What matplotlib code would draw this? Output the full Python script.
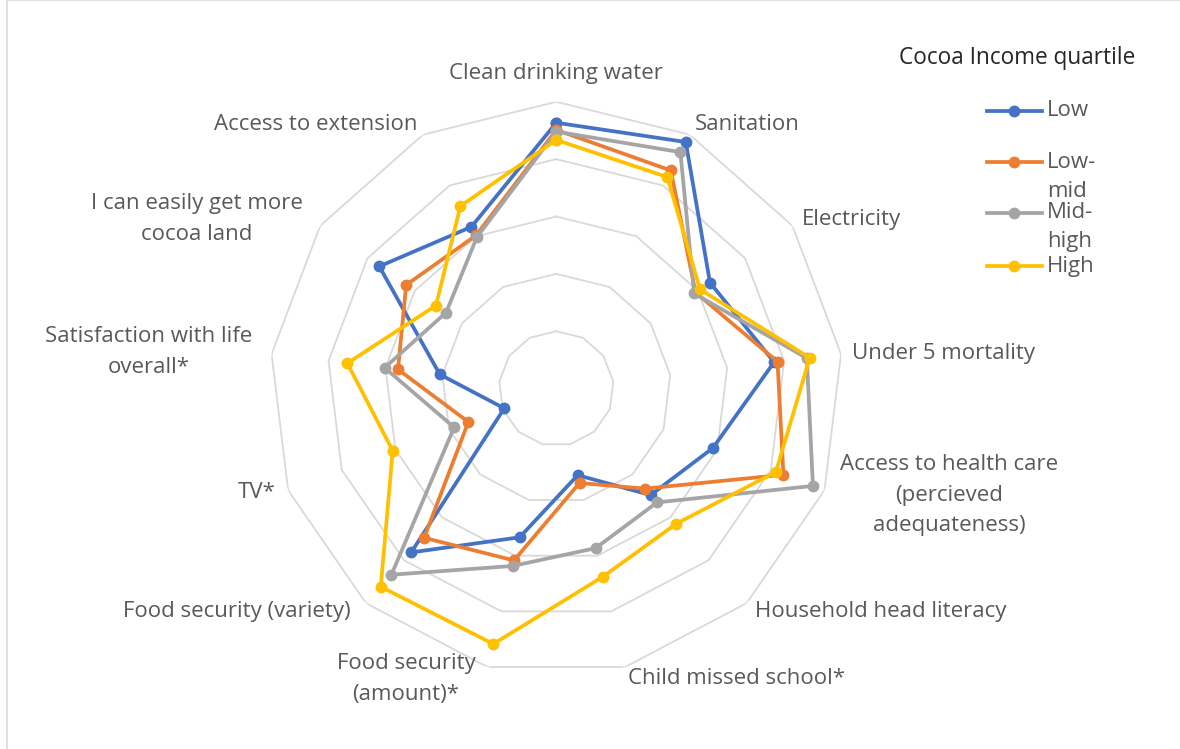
import numpy as np
import matplotlib
matplotlib.use("Agg")
import matplotlib.pyplot as plt
from matplotlib.lines import Line2D
from matplotlib.patches import Rectangle

# ---------------- data ----------------
categories = [
    "Clean drinking water", "Sanitation", "Electricity", "Under 5 mortality",
    "Access to health care\n(percieved\nadequateness)", "Household head literacy",
    "Child missed school*", "Food security\n(amount)*", "Food security (variety)",
    "TV*", "Satisfaction with life\noverall*", "I can easily get more\ncocoa land",
    "Access to extension",
]
series_names = ["Low", "Low-mid", "Mid-high", "High"]
legend_labels = ["Low", "Low-\nmid", "Mid-\nhigh", "High"]
low      = [0.927, 0.971, 0.651, 0.765, 0.584, 0.496, 0.311, 0.534, 0.763, 0.194, 0.409, 0.750, 0.637]
low_mid  = [0.902, 0.859, 0.590, 0.777, 0.847, 0.466, 0.339, 0.617, 0.695, 0.328, 0.556, 0.636, 0.603]
mid_high = [0.896, 0.931, 0.584, 0.880, 0.957, 0.530, 0.573, 0.637, 0.867, 0.381, 0.603, 0.467, 0.596]
high     = [0.867, 0.833, 0.609, 0.890, 0.819, 0.630, 0.676, 0.917, 0.923, 0.610, 0.734, 0.510, 0.719]
ring_levels = [0.2, 0.4, 0.6, 0.8, 1.0]
colors = ["#4472C4", "#ED7D31", "#A5A5A5", "#FFC000"]
legend_title = "Cocoa Income quartile"

# ---------------- figure ----------------
W, H = 1180, 749
fig = plt.figure(figsize=(W / 100, H / 100), dpi=100)
fig.patch.set_facecolor("white")
FONT = ["Open Sans", "DejaVu Sans"]
TXT = "#595959"
FS = 16
LS = 1.6

def fx(px):
    return px / W

def fy(py):
    return 1 - py / H

# chart border
fig.patches.append(Rectangle((fx(7), fy(760)), fx(1180), 760 / H, transform=fig.transFigure,
                             fill=False, edgecolor="#d9d9d9", linewidth=1.2))

cx, cy, R = 556.3, 388.6, 286.8
ax = fig.add_axes([fx(cx - R), fy(cy + R), 2 * R / W, 2 * R / H], projection="polar")
ax.set_theta_zero_location("N")
ax.set_theta_direction(-1)
ax.set_ylim(0, 1)
ax.set_xticks([])
ax.set_yticks([])
ax.grid(False)
ax.spines["polar"].set_visible(False)
ax.patch.set_alpha(0)

n = len(categories)
angles = np.arange(n) * 2 * np.pi / n
closed_angles = np.append(angles, angles[0])

for lv in ring_levels:
    ax.plot(closed_angles, [lv] * (n + 1), color="#d9d9d9", lw=1.3, zorder=1)

for vals, col in zip([low, low_mid, mid_high, high], colors):
    v = np.append(vals, vals[0])
    ax.plot(closed_angles, v, color=col, lw=2.7, marker="o", markersize=7.5,
            solid_joinstyle="round", zorder=3)

# category labels (pixel positions of text centres)
label_pos = [
    (556, 73, "center"), (695, 124, "left"), (802, 220, "left"), (852, 353, "left"),
    (949, 495, "center"), (755, 611, "left"), (628, 679, "left"), (406, 679, "center"),
    (237, 611, "center"), (257, 493, "center"), (149, 352, "center"), (197, 219, "center"),
    (417, 125, "right"),
]
for lab, (px, py, ha) in zip(categories, label_pos):
    fig.text(fx(px), fy(py), lab, ha=ha, va="center", fontsize=FS, color=TXT,
             family=FONT, linespacing=LS, multialignment="center")

# legend
fig.text(fx(1017), fy(58), legend_title, ha="center", va="center", fontsize=FS + 0.3,
         color="#262626", family=FONT)
leg_y = [110.7, 161.5, 212.7, 265.5]
text_y = [110.7, 176.7, 227.2, 266.0]
for lab, col, ly, ty in zip(legend_labels, colors, leg_y, text_y):
    fig.add_artist(Line2D([fx(987), fx(1041.5)], [fy(ly), fy(ly)], transform=fig.transFigure,
                          color=col, lw=2.7))
    fig.add_artist(Line2D([fx(1013.5)], [fy(ly)], transform=fig.transFigure,
                          color=col, marker="o", markersize=7.5, lw=0))
    fig.text(fx(1047), fy(ty), lab, ha="left", va="center", fontsize=FS, color=TXT,
             family=FONT, linespacing=1.5)

fig.savefig("out.png", dpi=100, facecolor="white")
